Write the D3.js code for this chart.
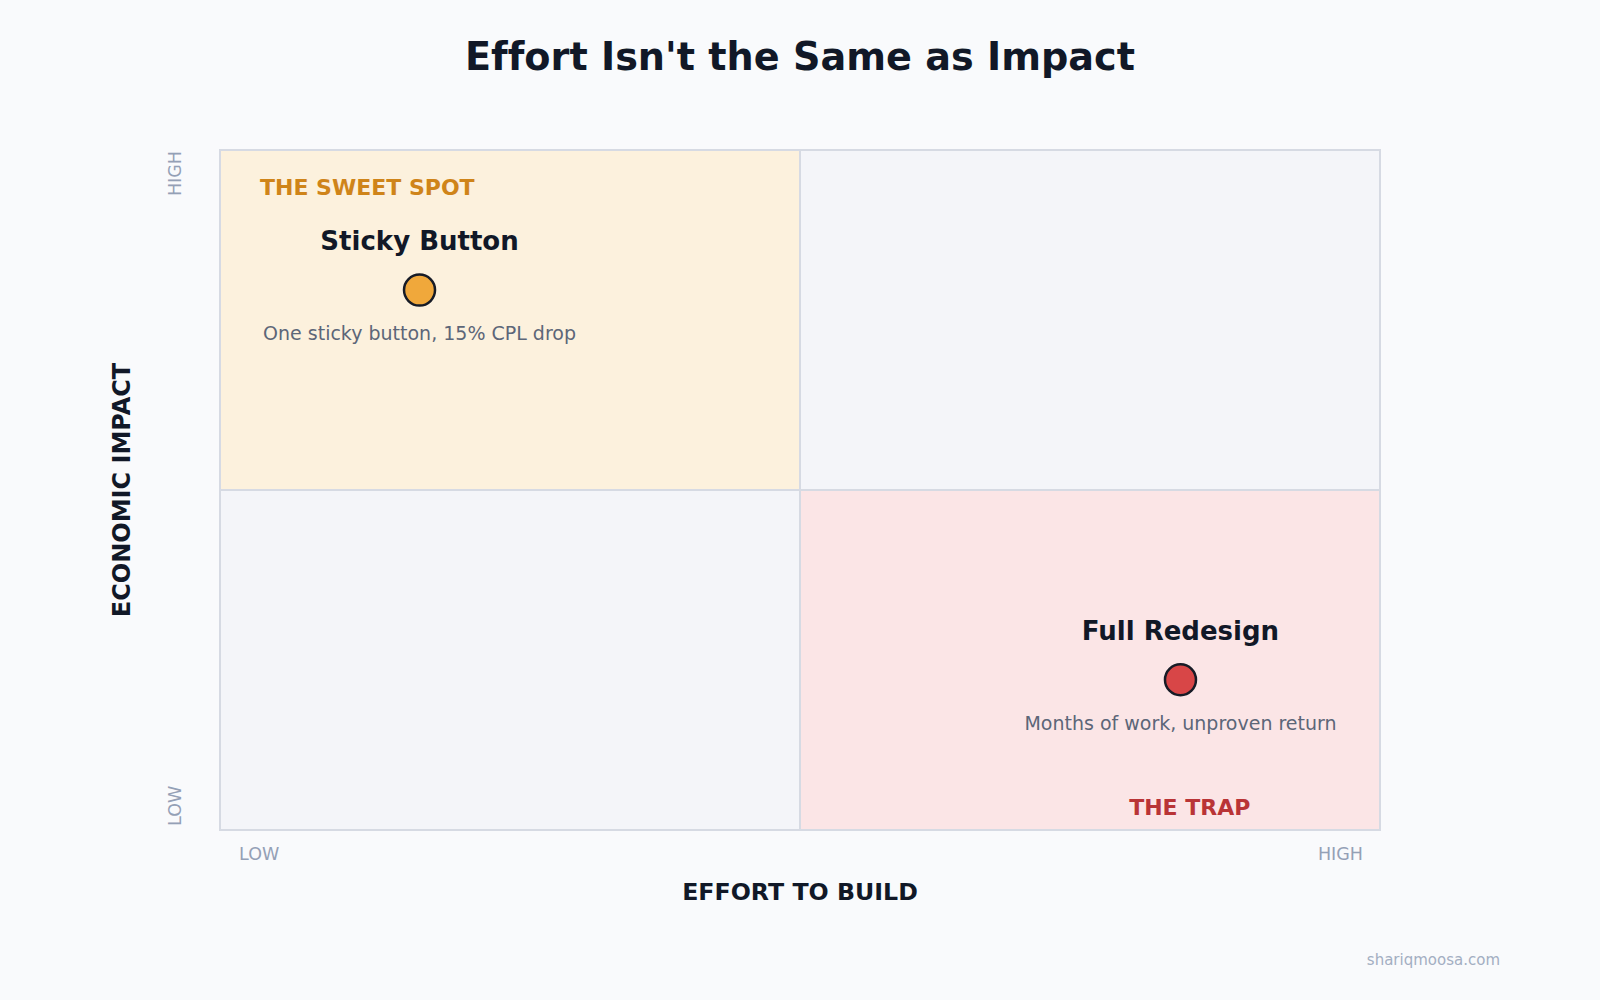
<!DOCTYPE html>
<html>
<head>
<meta charset="utf-8">
<script src="https://cdn.jsdelivr.net/npm/d3@7"></script>
<style>
  html, body { margin: 0; padding: 0; background: #f9fafc; }
  svg { display: block; font-family: "DejaVu Sans", sans-serif; font-variant-ligatures: none; }
</style>
</head>
<body>
<svg id="chart" width="1600" height="1000"></svg>
<script>
// ---- Data ----
const title = "Effort Isn't the Same as Impact";
const xAxisTitle = "EFFORT TO BUILD";
const yAxisTitle = "ECONOMIC IMPACT";
const axisEndLabels = ["LOW", "HIGH"];

const itemNames = ["Sticky Button", "Full Redesign"];
const itemNotes = ["One sticky button, 15% CPL drop", "Months of work, unproven return"];
const itemEffort = [17.2, 82.8];   // x, 0-100
const itemImpact = [79.4, 22.1];   // y, 0-100

// quadrants: [effort range], [impact range], label
const quadNames = ["THE SWEET SPOT", "", "", "THE TRAP"];
const quadEffort = [[0, 50], [50, 100], [0, 50], [50, 100]];
const quadImpact = [[50, 100], [50, 100], [0, 50], [0, 50]];

const watermark = "shariqmoosa.com";

// ---- Styles ----
const quadFill = ["#fcf1dd", "#f4f5f9", "#f4f5f9", "#fbe5e6"];
const quadLabelColor = ["#cf8419", null, null, "#b93436"];
const pointFill = ["#f0a83b", "#d84647"];

const svg = d3.select("#chart");
const x = d3.scaleLinear().domain([0, 100]).range([220, 1380]);
const y = d3.scaleLinear().domain([0, 100]).range([830, 150]);

// quadrant fills
const quads = quadNames.map((n, i) => ({ name: n, ex: quadEffort[i], iy: quadImpact[i], fill: quadFill[i], lc: quadLabelColor[i] }));
svg.append("g").selectAll("rect").data(quads).join("rect")
  .attr("x", d => x(d.ex[0]))
  .attr("y", d => y(d.iy[1]))
  .attr("width", d => x(d.ex[1]) - x(d.ex[0]))
  .attr("height", d => y(d.iy[0]) - y(d.iy[1]))
  .attr("fill", d => d.fill)
  .attr("stroke", "#d6dae3")
  .attr("stroke-width", 2);

// outer frame
svg.append("rect")
  .attr("x", x(0)).attr("y", y(100))
  .attr("width", x(100) - x(0)).attr("height", y(0) - y(100))
  .attr("fill", "none").attr("stroke", "#d6dae3").attr("stroke-width", 2);

// quadrant labels
svg.append("text")
  .attr("x", x(0) + 40).attr("y", y(100) + 45)
  .attr("font-size", 22).attr("font-weight", "bold")
  .attr("fill", quads[0].lc).text(quads[0].name);
svg.append("text")
  .attr("x", x(83.6)).attr("y", y(0) - 15)
  .attr("text-anchor", "middle")
  .attr("font-size", 22).attr("font-weight", "bold")
  .attr("fill", quads[3].lc).text(quads[3].name);

// items
const items = itemNames.map((n, i) => ({ name: n, note: itemNotes[i], ex: itemEffort[i], im: itemImpact[i], fill: pointFill[i] }));
const g = svg.append("g").selectAll("g").data(items).join("g")
  .attr("transform", d => `translate(${x(d.ex)},${y(d.im)})`);
g.append("text").attr("y", -40).attr("text-anchor", "middle")
  .attr("font-size", 26).attr("font-weight", "bold").attr("fill", "#111827")
  .text(d => d.name);
g.append("circle").attr("r", 15.5)
  .attr("fill", d => d.fill).attr("stroke", "#161b26").attr("stroke-width", 2.5);
g.append("text").attr("y", 50).attr("text-anchor", "middle")
  .attr("font-size", 19).attr("fill", "#5c6678")
  .text(d => d.note);

// axis end labels
const endColor = "#94a0b6";
svg.append("text").attr("x", x(0) + 19).attr("y", 860)
  .attr("font-size", 17.5).attr("fill", endColor).text(axisEndLabels[0]);
svg.append("text").attr("x", x(100) - 17).attr("y", 860).attr("text-anchor", "end")
  .attr("font-size", 17.5).attr("fill", endColor).text(axisEndLabels[1]);
svg.append("text").attr("transform", `translate(181,${y(0) - 4}) rotate(-90)`)
  .attr("font-size", 17.5).attr("fill", endColor).text(axisEndLabels[0]);
svg.append("text").attr("transform", `translate(181,${y(100) + 1}) rotate(-90)`)
  .attr("text-anchor", "end")
  .attr("font-size", 17.5).attr("fill", endColor).text(axisEndLabels[1]);

// axis titles
svg.append("text").attr("x", x(50)).attr("y", 900).attr("text-anchor", "middle")
  .attr("font-size", 23.7).attr("font-weight", "bold").attr("fill", "#111827").text(xAxisTitle);
svg.append("text").attr("transform", `translate(130,${y(50)}) rotate(-90)`)
  .attr("text-anchor", "middle")
  .attr("font-size", 24).attr("font-weight", "bold").attr("fill", "#111827").text(yAxisTitle);

// title
svg.append("text").attr("x", 800).attr("y", 70).attr("text-anchor", "middle")
  .attr("font-size", 38.2).attr("font-weight", "bold").attr("fill", "#111827").text(title);

// watermark
svg.append("text").attr("x", 1500).attr("y", 965).attr("text-anchor", "end")
  .attr("font-size", 15).attr("fill", "#a3aec2").text(watermark);
</script>
</body>
</html>
